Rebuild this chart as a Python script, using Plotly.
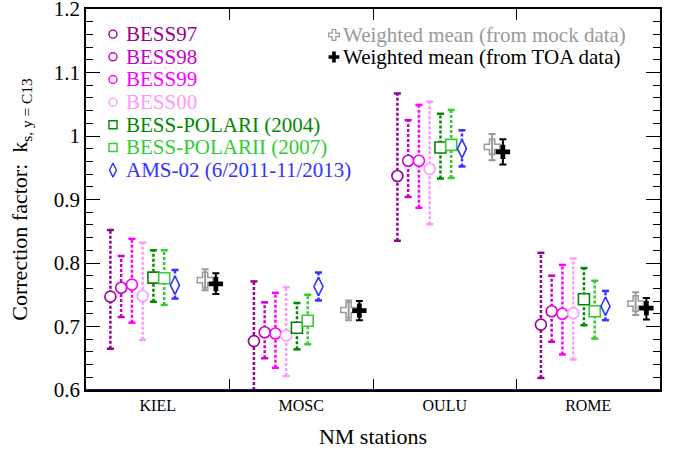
import plotly.graph_objects as go

stations = ["KIEL", "MOSC", "OULU", "ROME"]

series_names = ["BESS97", "BESS98", "BESS99", "BESS00",
                "BESS-POLARI (2004)", "BESS-POLARII (2007)", "AMS-02 (6/2011-11/2013)"]

bess97_val = [0.747, 0.677, 0.937, 0.703]
bess97_hi = [0.852, 0.771, 1.067, 0.816]
bess97_lo = [0.665, 0.600, 0.835, 0.619]

bess98_val = [0.761, 0.691, 0.961, 0.724]
bess98_hi = [0.811, 0.738, 1.025, 0.780]
bess98_lo = [0.715, 0.650, 0.904, 0.676]

bess99_val = [0.766, 0.689, 0.961, 0.720]
bess99_hi = [0.838, 0.753, 1.049, 0.797]
bess99_lo = [0.706, 0.635, 0.887, 0.656]

bess00_val = [0.748, 0.686, 0.948, 0.721]
bess00_hi = [0.832, 0.762, 1.054, 0.807]
bess00_lo = [0.679, 0.622, 0.861, 0.648]

polar1_val = [0.777, 0.698, 0.982, 0.743]
polar1_hi = [0.820, 0.737, 1.035, 0.792]
polar1_lo = [0.739, 0.664, 0.933, 0.702]

polar2_val = [0.776, 0.709, 0.986, 0.724]
polar2_hi = [0.820, 0.750, 1.041, 0.772]
polar2_lo = [0.734, 0.672, 0.934, 0.681]

ams_val = [0.765, 0.763, 0.980, 0.732]
ams_hi = [0.789, 0.785, 1.009, 0.756]
ams_lo = [0.744, 0.741, 0.952, 0.710]

mock_name = "Weighted mean (from mock data)"
mock_val = [0.773, 0.726, 0.983, 0.736]
mock_hi = [0.790, 0.741, 1.003, 0.754]
mock_lo = [0.757, 0.710, 0.962, 0.718]

toa_name = "Weighted mean (from TOA data)"
toa_val = [0.767, 0.725, 0.975, 0.729]
toa_hi = [0.784, 0.740, 0.995, 0.745]
toa_lo = [0.751, 0.710, 0.955, 0.711]

y_ticks = [0.6, 0.7, 0.8, 0.9, 1.0, 1.1, 1.2]
y_ticktext = ["0.6", "0.7", "0.8", "0.9", "1", "1.1", "1.2"]

# ---- styling ----
FONT = "Liberation Serif"
colors = ["#990099", "#cc00cc", "#ff00ff", "#ff99ff", "#008800", "#33cc33", "#3333ff"]
symbols = ["circle", "circle", "circle", "circle", "square", "square", "diamond-tall"]
msizes = [11, 11, 11, 11, 11, 11, 13]
offsets = [-0.33, -0.255, -0.18, -0.105, -0.03, 0.045, 0.12]
mean_offsets = [0.33, 0.405]

data = [
    (bess97_val, bess97_hi, bess97_lo),
    (bess98_val, bess98_hi, bess98_lo),
    (bess99_val, bess99_hi, bess99_lo),
    (bess00_val, bess00_hi, bess00_lo),
    (polar1_val, polar1_hi, polar1_lo),
    (polar2_val, polar2_hi, polar2_lo),
    (ams_val, ams_hi, ams_lo),
]

fig = go.Figure()

for k, (vals, his, los) in enumerate(data):
    xs = [i + offsets[k] for i in range(len(stations))]
    lx, ly = [], []
    for x, lo, hi in zip(xs, los, his):
        lx += [x, x, None]
        ly += [lo, hi, None]
    fig.add_trace(go.Scatter(x=lx, y=ly, mode="lines", showlegend=False, hoverinfo="skip",
                             line=dict(color=colors[k], width=2.5, dash="3px,2px")))
    fig.add_trace(go.Scatter(x=xs + xs, y=his + los, mode="markers", showlegend=False,
                             hoverinfo="skip",
                             marker=dict(symbol="line-ew", size=5, color=colors[k],
                                         line=dict(color=colors[k], width=2.5))))
    fig.add_trace(go.Scatter(x=xs, y=vals, mode="markers", name=series_names[k], showlegend=False,
                             marker=dict(symbol=symbols[k], size=msizes[k], color="white",
                                         line=dict(color=colors[k], width=1.6))))

for k, (name, vals, his, los, col, sym) in enumerate([
        (mock_name, mock_val, mock_hi, mock_lo, "#999999", "cross-open"),
        (toa_name, toa_val, toa_hi, toa_lo, "black", "cross")]):
    xs = [i + mean_offsets[k] for i in range(len(stations))]
    fig.add_trace(go.Scatter(
        x=xs, y=vals, mode="markers", name=name, showlegend=False,
        error_y=dict(type="data", symmetric=False,
                     array=[h - v for h, v in zip(his, vals)],
                     arrayminus=[v - l for v, l in zip(vals, los)],
                     color=col, thickness=2, width=3.5),
        marker=dict(symbol=sym, size=13 if k == 0 else 12, color=col,
                    line=dict(color=col, width=1.5 if k == 0 else 0))))

# ---- custom legend (overlay axes in plot-area fraction) ----
leg_rows_y = [0.934 - 0.0595 * i for i in range(7)]
leg_sizes = [8, 8, 8, 8, 8, 8, 10]
for k in range(7):
    fig.add_trace(go.Scatter(x=[0.047], y=[leg_rows_y[k]], xaxis="x2", yaxis="y2",
                             mode="markers", showlegend=False, hoverinfo="skip", cliponaxis=False,
                             marker=dict(symbol=symbols[k], size=leg_sizes[k], color="white",
                                         line=dict(color=colors[k], width=1.4))))
    fig.add_annotation(x=0.066, y=leg_rows_y[k], xref="paper", yref="paper",
                       text=series_names[k], showarrow=False, xanchor="left", yanchor="middle",
                       font=dict(family=FONT, size=21, color=colors[k]))

right_rows_y = [0.932, 0.874]
for k, (name, col, sym) in enumerate([(mock_name, "#999999", "cross-open"),
                                      (toa_name, "black", "cross")]):
    fig.add_trace(go.Scatter(x=[0.432], y=[right_rows_y[k]], xaxis="x2", yaxis="y2",
                             mode="markers", showlegend=False, hoverinfo="skip", cliponaxis=False,
                             marker=dict(symbol=sym, size=9, color=col,
                                         line=dict(color=col, width=1.2 if k == 0 else 0))))
    fig.add_annotation(x=0.445, y=right_rows_y[k], xref="paper", yref="paper",
                       text=name, showarrow=False, xanchor="left", yanchor="middle",
                       font=dict(family=FONT, size=21, color=col))

# bottom axis line in navy
fig.add_shape(type="line", xref="paper", yref="y", x0=0, x1=1, y0=0.6, y1=0.6,
              line=dict(color="#1a1a6e", width=2.2))

fig.update_layout(
    width=678, height=450,
    margin=dict(l=86, r=18, t=9, b=60, autoexpand=False),
    plot_bgcolor="white", paper_bgcolor="white",
    showlegend=False,
    font=dict(family=FONT, color="black"),
    xaxis=dict(
        range=[-0.5, 3.5], tickvals=[0, 1, 2, 3], ticktext=stations, ticks="",
        tickfont=dict(family=FONT, size=16), automargin=False,
        minor=dict(tickvals=[0.5, 1.5, 2.5], ticks="inside", ticklen=11, tickwidth=1.2,
                   tickcolor="black"),
        showline=True, linecolor="black", linewidth=1.5, mirror="ticks",
        showgrid=False, zeroline=False,
        title=dict(text="NM stations", font=dict(family=FONT, size=22), standoff=16),
    ),
    yaxis=dict(
        range=[0.6, 1.2], tickvals=y_ticks, ticktext=y_ticktext,
        ticks="inside", ticklen=14, tickwidth=1.2, tickcolor="black",
        tickfont=dict(family=FONT, size=21), automargin=False, ticklabeloverflow="allow",
        minor=dict(dtick=0.02, tick0=0.6, ticks="inside", ticklen=7, tickwidth=1.2,
                   tickcolor="black"),
        showline=True, linecolor="black", linewidth=1.5, mirror="ticks",
        showgrid=False, zeroline=False,
        title=dict(text="Correction factor:  k<sub>s, y = C13</sub>",
                   font=dict(family=FONT, size=22), standoff=20),
    ),
    xaxis2=dict(range=[0, 1], overlaying="x", anchor="y2", visible=False, fixedrange=True),
    yaxis2=dict(range=[0, 1], overlaying="y", anchor="x2", visible=False, fixedrange=True),
)

fig.write_html("out.html", config={"displayModeBar": False},
               post_script="document.body.style.margin='0';document.body.style.padding='0';")
